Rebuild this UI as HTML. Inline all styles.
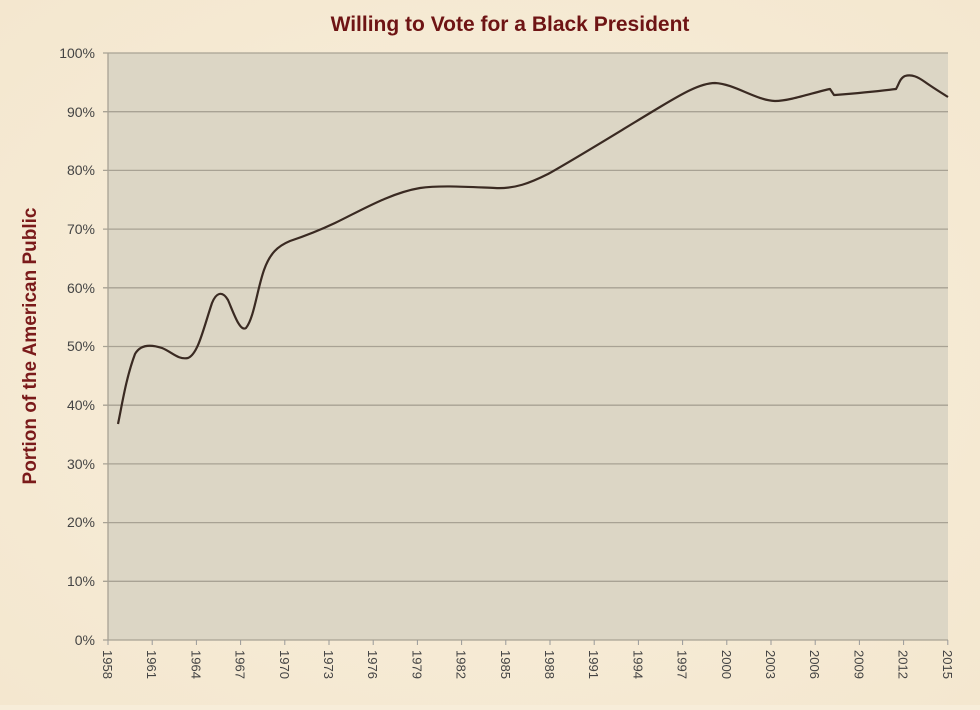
<!DOCTYPE html>
<html><head><style>
body{margin:0;width:980px;height:705px;background:#f7edd9;overflow:hidden}
</style></head><body>
<svg width="980" height="705" xmlns="http://www.w3.org/2000/svg" font-family="Liberation Sans, sans-serif">
<defs><radialGradient id="bg" cx="50%" cy="50%" r="70%"><stop offset="0" stop-color="#f8efdc"/><stop offset="1" stop-color="#f4e7cf"/></radialGradient></defs>
<rect width="980" height="705" fill="url(#bg)"/>
<text x="510" y="31" text-anchor="middle" font-size="21" font-weight="bold" fill="#6e1414">Willing to Vote for a Black President</text>
<text transform="translate(36,346) rotate(-90)" text-anchor="middle" font-size="19" font-weight="bold" fill="#7a1a1a">Portion of the American Public</text>
<rect x="108" y="53" width="840" height="587" fill="#dcd6c5"/>
<g stroke="#a8a294" stroke-width="1.3">
<line x1="103" y1="53" x2="948" y2="53"/><line x1="103" y1="111.7" x2="948" y2="111.7"/><line x1="103" y1="170.4" x2="948" y2="170.4"/><line x1="103" y1="229.1" x2="948" y2="229.1"/><line x1="103" y1="287.8" x2="948" y2="287.8"/><line x1="103" y1="346.5" x2="948" y2="346.5"/><line x1="103" y1="405.2" x2="948" y2="405.2"/><line x1="103" y1="463.9" x2="948" y2="463.9"/><line x1="103" y1="522.6" x2="948" y2="522.6"/><line x1="103" y1="581.3" x2="948" y2="581.3"/><line x1="103" y1="640" x2="948" y2="640"/>
<line x1="108" y1="53" x2="108" y2="640"/>
</g>
<g font-size="14" fill="#444" text-anchor="end">
<text x="95" y="58">100%</text><text x="95" y="117">90%</text><text x="95" y="175">80%</text><text x="95" y="234">70%</text><text x="95" y="293">60%</text><text x="95" y="351">50%</text><text x="95" y="410">40%</text><text x="95" y="469">30%</text><text x="95" y="527">20%</text><text x="95" y="586">10%</text><text x="95" y="645">0%</text>
</g>
<g stroke="#999" stroke-width="1">
<line x1="108" y1="640" x2="108" y2="645"/><line x1="152.2" y1="640" x2="152.2" y2="645"/><line x1="196.4" y1="640" x2="196.4" y2="645"/><line x1="240.6" y1="640" x2="240.6" y2="645"/><line x1="284.8" y1="640" x2="284.8" y2="645"/><line x1="329" y1="640" x2="329" y2="645"/><line x1="373.2" y1="640" x2="373.2" y2="645"/><line x1="417.4" y1="640" x2="417.4" y2="645"/><line x1="461.6" y1="640" x2="461.6" y2="645"/><line x1="505.8" y1="640" x2="505.8" y2="645"/><line x1="550" y1="640" x2="550" y2="645"/><line x1="594.2" y1="640" x2="594.2" y2="645"/><line x1="638.4" y1="640" x2="638.4" y2="645"/><line x1="682.6" y1="640" x2="682.6" y2="645"/><line x1="726.8" y1="640" x2="726.8" y2="645"/><line x1="771" y1="640" x2="771" y2="645"/><line x1="815.2" y1="640" x2="815.2" y2="645"/><line x1="859.4" y1="640" x2="859.4" y2="645"/><line x1="903.6" y1="640" x2="903.6" y2="645"/><line x1="947.8" y1="640" x2="947.8" y2="645"/>
</g>
<g font-size="13" fill="#444">
<text transform="translate(103,650) rotate(90)">1958</text><text transform="translate(147.2,650) rotate(90)">1961</text><text transform="translate(191.4,650) rotate(90)">1964</text><text transform="translate(235.6,650) rotate(90)">1967</text><text transform="translate(279.8,650) rotate(90)">1970</text><text transform="translate(324,650) rotate(90)">1973</text><text transform="translate(368.2,650) rotate(90)">1976</text><text transform="translate(412.4,650) rotate(90)">1979</text><text transform="translate(456.6,650) rotate(90)">1982</text><text transform="translate(500.8,650) rotate(90)">1985</text><text transform="translate(545,650) rotate(90)">1988</text><text transform="translate(589.2,650) rotate(90)">1991</text><text transform="translate(633.4,650) rotate(90)">1994</text><text transform="translate(677.6,650) rotate(90)">1997</text><text transform="translate(721.8,650) rotate(90)">2000</text><text transform="translate(766,650) rotate(90)">2003</text><text transform="translate(810.2,650) rotate(90)">2006</text><text transform="translate(854.4,650) rotate(90)">2009</text><text transform="translate(898.6,650) rotate(90)">2012</text><text transform="translate(942.8,650) rotate(90)">2015</text>
</g>
<path fill="none" stroke="#3a2a22" stroke-width="2.2" stroke-linejoin="round" d="M118,424 C122,405 126,378 135,354 C140,345 150,344 162,348 C172,352 178,360 188,358 C198,354 203,330 212,303 C216,293 222,290 228,300 C234,314 240,332 246,328 C254,318 257,290 264,270 C270,253 278,246 290,241 C305,236 318,231 335,223 C360,211 390,193 420,188 C440,185 470,187 495,188 C515,189 530,183 548,174 C580,156 620,131 660,107 C680,95 700,83 715,83 C735,84 755,100 775,101 C790,101 815,92 830,89 L834,95 L835,95 C860,93 880,91 896,89 C899,84 900,78 905,76 C912,74 918,77 925,82 C932,87 940,92 948,97"/>
</svg>
</body></html>
